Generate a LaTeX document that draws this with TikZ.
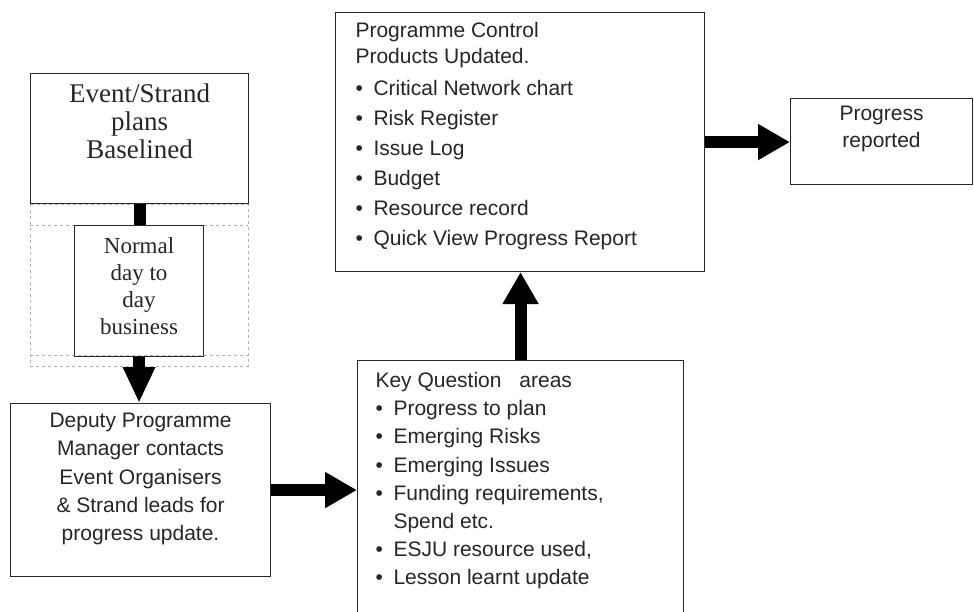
\documentclass[tikz,border=0pt]{standalone}
\usepackage{fontspec}
\setmainfont{Liberation Sans}
\newfontfamily\serifpis{Liberation Serif}
\usetikzlibrary{arrows.meta}
\newcommand\tocka{\makebox[18pt][l]{\textbullet}}

\begin{document}
\begin{tikzpicture}[x=1pt,y=-1pt,
  okvir/.style={draw=black!85, line width=1.1pt, inner sep=0pt, anchor=north west, text=black!85},
  palica/.style={line width=12pt},
  puscica/.style={line width=12pt, -{Triangle[length=32pt,width=34pt]}},
  crtkano/.style={gray!60, dashed, line width=0.6pt}]
\clip (0,0) rectangle (974,611);
\fill[white] (0,0) rectangle (974,611);
% dashed frame round the first two boxes
\draw[crtkano] (30,204) rectangle (248,366);
\draw[crtkano] (30,225) -- (248,225);
\draw[crtkano] (30,355) -- (248,355);
% boxes
\node[okvir] (plani) at (30,73) {\parbox[c][130pt][t]{218pt}{\centering\serifpis\fontsize{27}{28}\selectfont
  \rule{0pt}{29pt}Event/Strand\\ plans\\ Baselined}};
\node[okvir] (normal) at (74,225) {\parbox[c][131pt][t]{129pt}{\centering\serifpis\fontsize{23}{27}\selectfont
  \rule{0pt}{28pt}Normal\\ day to\\ day\\ business}};
\node[okvir] (deputy) at (10,403) {\parbox[c][173pt][t]{260pt}{\centering\fontsize{21}{28.3}\selectfont
  \rule{0pt}{24pt}Deputy Programme\\ Manager contacts\\ Event Organisers\\ \& Strand leads for\\ progress update.}};
\node[okvir] (kljucna) at (357,360) {\parbox[c][260pt][t]{326pt}{\raggedright\leftskip=18pt\fontsize{21}{28.2}\selectfont
  \rule{0pt}{27pt}Key Question\hspace{12pt} areas\\
  \tocka Progress to plan\\
  \tocka Emerging Risks\\
  \tocka Emerging Issues\\
  \tocka Funding requirements,\\
  \hspace*{18pt}Spend etc.\\
  \tocka ESJU resource used,\\
  \tocka Lesson learnt update}};
\node[okvir] (kontrola) at (335,12) {\parbox[c][259pt][t]{369pt}{\raggedright\leftskip=20pt\fontsize{21}{30}\selectfont
  \rule{0pt}{25pt}Programme Control\\[-4pt]
  Products Updated.\\[2pt]
  \tocka Critical Network chart\\
  \tocka Risk Register\\
  \tocka Issue Log\\
  \tocka Budget\\
  \tocka Resource record\\
  \tocka Quick View Progress Report}};
\node[okvir] (porocilo) at (790,98) {\parbox[c][86pt][t]{182pt}{\centering\fontsize{21}{27}\selectfont
  \rule{0pt}{22pt}Progress\\ reported}};
% connectors
\draw[palica] (plani.south) -- (plani.south |- normal.north);
\draw[puscica, -{Triangle[length=36pt,width=30pt]}] (normal.south) -- (normal.south |- deputy.north);
\draw[puscica] (deputy.east) -- (deputy.east -| kljucna.west);
\draw[puscica] (kljucna.north) -- (kljucna.north |- kontrola.south);
\draw[puscica] (kontrola.east) -- (kontrola.east -| porocilo.west);
\end{tikzpicture}
\end{document}
